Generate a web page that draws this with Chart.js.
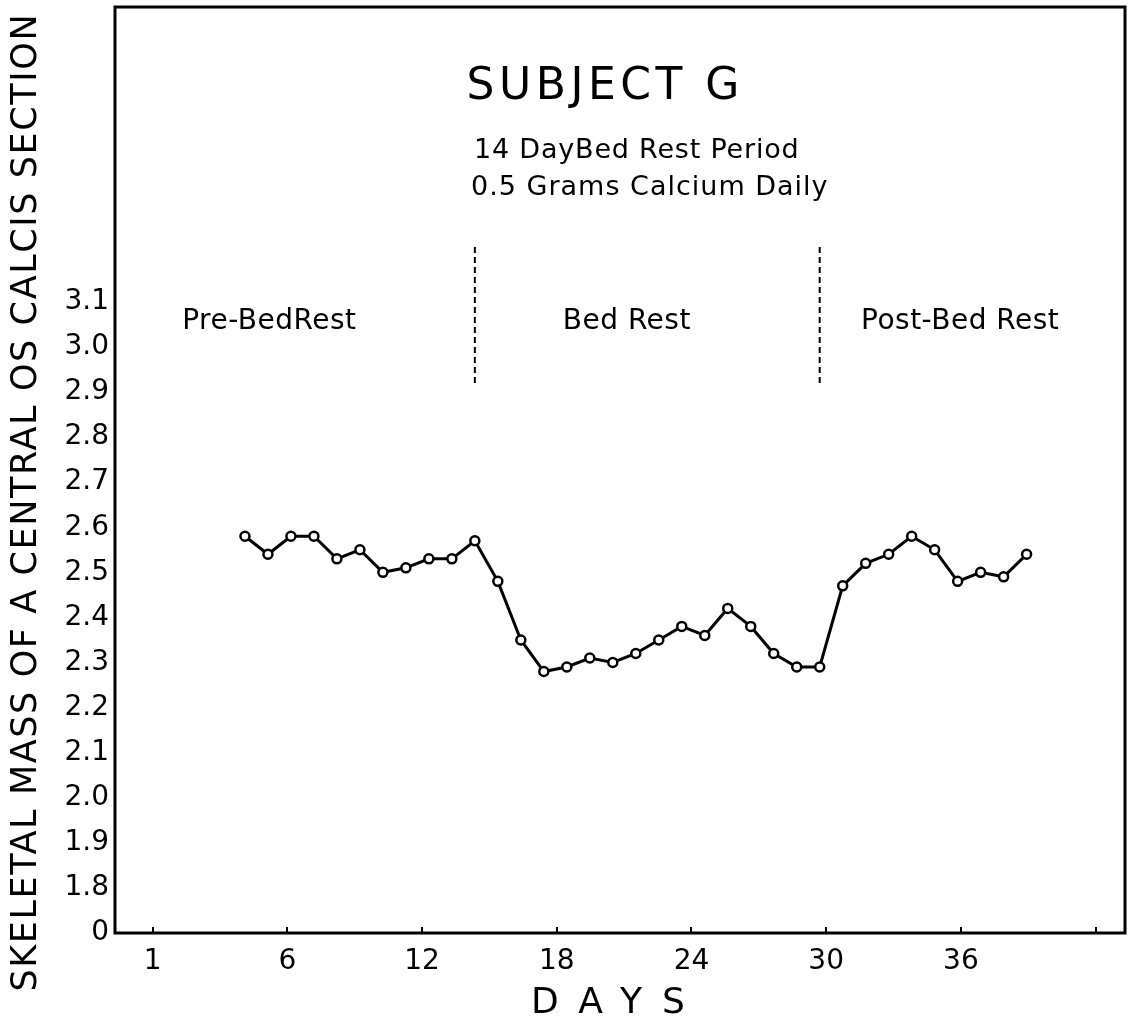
<!DOCTYPE html>
<html>
<head>
<meta charset="utf-8">
<title>Subject G</title>
<script src="https://cdn.jsdelivr.net/npm/chart.js@4.4.1/dist/chart.umd.min.js"></script>
<style>
  html, body { margin: 0; padding: 0; background: #fff; }
  canvas { display: block; }
</style>
</head>
<body>
<canvas id="chart" width="1143" height="1022"></canvas>
<script>
// days of the study (one reading per day)
const days = [4, 5, 6, 7, 8, 9, 10, 11, 12, 13, 14, 15, 16, 17, 18, 19, 20, 21,
              22, 23, 24, 25, 26, 27, 28, 29, 30, 31, 32, 33, 34, 35, 36, 37, 38]
// skeletal mass, central os calcis section
const skeletalMass = [2.58, 2.54, 2.58, 2.58, 2.53, 2.55, 2.50, 2.51, 2.53, 2.53, 2.57, 2.48,
                      2.35, 2.28, 2.29, 2.31, 2.30, 2.32, 2.35, 2.38, 2.36, 2.42, 2.38, 2.32,
                      2.29, 2.29, 2.47, 2.52, 2.54, 2.58, 2.55, 2.48, 2.50, 2.49, 2.54]

// start / end of the bed rest period (dashed markers)
const periodBounds = [14, 29]
const periodMarkerRange = [2.92, 3.23]
const periodNames = ['Pre-BedRest', 'Bed Rest', 'Post-Bed Rest']

const xTickValues = [0, 6, 12, 18, 24, 30, 36, 42]
const xTickLabels = ['1', '6', '12', '18', '24', '30', '36', '']
const yTickValues = [1.7, 1.8, 1.9, 2.0, 2.1, 2.2, 2.3, 2.4, 2.5, 2.6, 2.7, 2.8, 2.9, 3.0, 3.1]
const yTickLabels = ['0', '1.8', '1.9', '2.0', '2.1', '2.2', '2.3', '2.4', '2.5', '2.6', '2.7', '2.8', '2.9', '3.0', '3.1']

const FONT = "'DejaVu Sans', sans-serif"

function drawSpaced(ctx, text, x, y, size, spacing, align) {
    ctx.save()
    ctx.font = `${size}px ${FONT}`
    ctx.letterSpacing = `${spacing}px`
    ctx.textAlign = 'left'
    ctx.textBaseline = 'alphabetic'
    const w = ctx.measureText(text).width - spacing
    let sx = x
    if (align === 'center') sx = x - w / 2
    ctx.fillText(text, sx, y)
    ctx.restore()
}

// frame, titles and period labels drawn on top of the chart
const lettering = {
    id: 'lettering',
    afterDraw(chart) {
        const { ctx, chartArea, scales } = chart
        ctx.save()
        ctx.strokeStyle = '#000'
        ctx.lineWidth = 3
        ctx.strokeRect(chartArea.left, chartArea.top, chartArea.right - chartArea.left, chartArea.bottom - chartArea.top)
        ctx.fillStyle = '#000'

        drawSpaced(ctx, 'SUBJECT G', 603, 99, 44, 4.5, 'center')
        drawSpaced(ctx, '14 DayBed Rest Period', 474, 158, 27, 0.8, 'left')
        drawSpaced(ctx, '0.5 Grams Calcium Daily', 471, 195, 27, 1.0, 'left')

        const centers = [5.05, 20.6, 35.1]
        const labelY = scales.y.getPixelForValue(3.04)
        periodNames.forEach((name, i) => {
            drawSpaced(ctx, name, scales.x.getPixelForValue(centers[i]), labelY, 28, 0.5, 'center')
        })

        drawSpaced(ctx, 'DAYS', 608, 1013, 36, 20, 'center')

        ctx.translate(36, 503)
        ctx.rotate(-Math.PI / 2)
        drawSpaced(ctx, 'SKELETAL MASS OF A CENTRAL OS CALCIS SECTION', 0, 0, 35, 1.6, 'center')
        ctx.restore()
    }
}

const markerSets = periodBounds.map(d => ({
    data: [{ x: d, y: periodMarkerRange[0] }, { x: d, y: periodMarkerRange[1] }],
    borderColor: '#000',
    borderWidth: 2,
    borderDash: [6, 4],
    pointRadius: 0,
    xAxisID: 'x',
    yAxisID: 'y'
}))

new Chart(document.getElementById('chart').getContext('2d'), {
    type: 'line',
    data: {
        datasets: [
            {
                label: 'Subject G',
                data: days.map((d, i) => ({ x: d, y: skeletalMass[i] })),
                borderColor: '#000',
                borderWidth: 3,
                pointRadius: 4.5,
                pointBorderWidth: 2.5,
                pointBackgroundColor: '#fff',
                pointBorderColor: '#000',
                tension: 0,
                xAxisID: 'x',
                yAxisID: 'y'
            },
            ...markerSets
        ]
    },
    options: {
        responsive: false,
        animation: false,
        devicePixelRatio: 1,
        layout: { padding: { left: 0, right: 18, top: 6, bottom: 0 } },
        plugins: {
            legend: { display: false },
            tooltip: { enabled: false },
            title: { display: false }
        },
        scales: {
            x: {
                type: 'linear',
                display: false,
                min: -1.653,
                max: 42.28
            },
            xt: {
                type: 'linear',
                position: 'bottom',
                min: -1.675,
                max: 43.31,
                afterBuildTicks: scale => { scale.ticks = xTickValues.map(v => ({ value: v })) },
                afterFit: scale => {
                    scale.height = 89
                    scale.paddingLeft = 0
                    scale.paddingRight = 0
                },
                border: { display: false },
                grid: {
                    display: true,
                    drawOnChartArea: false,
                    drawTicks: true,
                    tickLength: -6,
                    color: '#000',
                    lineWidth: 2
                },
                ticks: {
                    autoSkip: false,
                    maxRotation: 0,
                    padding: 18,
                    color: '#000',
                    font: { family: FONT, size: 28 },
                    callback: (v, i) => xTickLabels[i]
                }
            },
            y: {
                type: 'linear',
                position: 'left',
                min: 1.7,
                max: 3.754,
                afterBuildTicks: scale => { scale.ticks = yTickValues.map(v => ({ value: v })) },
                afterFit: scale => {
                    scale.width = 115
                    scale.paddingTop = 0
                    scale.paddingBottom = 0
                },
                border: { display: false },
                grid: { display: false, drawTicks: false },
                ticks: {
                    padding: 6,
                    color: '#000',
                    font: { family: FONT, size: 28 },
                    callback: (v, i) => yTickLabels[i]
                }
            }
        }
    },
    plugins: [lettering]
})
</script>
</body>
</html>
